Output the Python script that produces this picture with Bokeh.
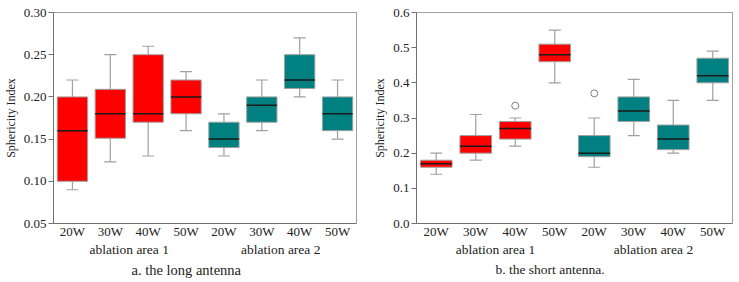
from bokeh.plotting import figure
from bokeh.models import FactorRange, NumeralTickFormatter, FixedTicker, Title, ColumnDataSource
from bokeh.layouts import row
from bokeh.embed import file_html
from bokeh.resources import INLINE

groups = ["ablation area 1"] * 4 + ["ablation area 2"] * 4
powers = ["20W", "30W", "40W", "50W"] * 2
colors = ["#ff0000"] * 4 + ["#008080"] * 4

# long antenna
a_low = [0.09, 0.123, 0.13, 0.16, 0.13, 0.16, 0.20, 0.15]
a_q1 = [0.10, 0.151, 0.17, 0.18, 0.14, 0.17, 0.21, 0.16]
a_med = [0.16, 0.18, 0.18, 0.20, 0.15, 0.19, 0.22, 0.18]
a_q3 = [0.20, 0.209, 0.25, 0.22, 0.17, 0.20, 0.25, 0.20]
a_high = [0.22, 0.25, 0.26, 0.23, 0.18, 0.22, 0.27, 0.22]
a_out_x = []
a_out_y = []

# short antenna
b_low = [0.14, 0.18, 0.22, 0.40, 0.16, 0.25, 0.20, 0.35]
b_q1 = [0.16, 0.20, 0.24, 0.46, 0.19, 0.29, 0.21, 0.40]
b_med = [0.17, 0.22, 0.27, 0.48, 0.20, 0.32, 0.24, 0.42]
b_q3 = [0.18, 0.25, 0.29, 0.51, 0.25, 0.36, 0.28, 0.47]
b_high = [0.20, 0.31, 0.30, 0.55, 0.30, 0.41, 0.35, 0.49]
b_out_x = [("ablation area 1", "40W"), ("ablation area 2", "20W")]
b_out_y = [0.335, 0.37]

a_ticks = [0.05, 0.10, 0.15, 0.20, 0.25, 0.30]
b_ticks = [0.0, 0.1, 0.2, 0.3, 0.4, 0.5, 0.6]

SERIF = "'Liberation Serif', 'Times New Roman', serif"
GRAY = "#a0a0a0"


def make(low, q1, med, q3, high, ox, oy, yr, ticks, fmt, caption, width, border_right,
         cap_size, cap_offset):
    factors = list(zip(groups, powers))
    xr = FactorRange(*factors, group_padding=0, factor_padding=0, range_padding=0)
    p = figure(width=width, height=282, x_range=xr, y_range=yr,
               output_backend="svg", toolbar_location=None,
               min_border_left=45, min_border_right=border_right,
               min_border_top=12, min_border_bottom=0)
    left = [(g, f, -0.4) for g, f in factors]
    right = [(g, f, 0.4) for g, f in factors]
    src = ColumnDataSource(dict(x=factors, xl=left, xr=right, low=low, q1=q1, med=med,
                                q3=q3, high=high, c=colors))
    p.segment(x0="x", y0="low", x1="x", y1="high", source=src, line_color=GRAY, line_width=1.2)
    p.scatter(x="x", y="low", source=src, marker="dash", size=12, line_color=GRAY, line_width=1.2)
    p.scatter(x="x", y="high", source=src, marker="dash", size=12, line_color=GRAY, line_width=1.2)
    p.vbar(x="x", bottom="q1", top="q3", width=0.8, source=src, fill_color="c",
           line_color=GRAY, line_width=1)
    p.segment(x0="xl", y0="med", x1="xr", y1="med", source=src,
              line_color="#1a1a1a", line_width=1.5)
    if ox:
        p.scatter(x=ox, y=oy, marker="circle", size=7, fill_color=None,
                  line_color="#808080", line_width=1)

    p.xgrid.visible = False
    p.ygrid.visible = False
    p.outline_line_color = GRAY
    p.outline_line_width = 1

    ya = p.yaxis[0]
    ya.ticker = FixedTicker(ticks=ticks)
    ya.formatter = NumeralTickFormatter(format=fmt)
    ya.minor_tick_line_color = None
    ya.minor_tick_out = 0
    ya.major_tick_in = 0
    ya.major_tick_out = 5
    ya.major_tick_line_color = "#707070"
    ya.axis_line_color = "#707070"
    ya.major_label_text_font = SERIF
    ya.major_label_text_font_size = "13px"
    ya.major_label_text_color = "#222222"
    ya.major_label_standoff = 2
    ya.axis_label = "Sphericity Index"
    ya.axis_label_text_font = SERIF
    ya.axis_label_text_font_size = "12px"
    ya.axis_label_text_font_style = "normal"
    ya.axis_label_text_color = "#222222"
    ya.axis_label_standoff = 3

    xa = p.xaxis[0]
    xa.major_tick_line_color = None
    xa.minor_tick_line_color = None
    xa.major_tick_in = 0
    xa.major_tick_out = 0
    xa.minor_tick_out = 0
    xa.axis_line_color = "#707070"
    xa.major_label_text_font = SERIF
    xa.major_label_text_font_size = "13px"
    xa.major_label_text_color = "#222222"
    xa.major_label_standoff = 0
    xa.group_text_font = SERIF
    xa.group_text_font_size = "13.5px"
    xa.group_text_font_style = "normal"
    xa.group_text_color = "#222222"
    xa.separator_line_color = None

    t = Title(text=caption, align="left", text_font=SERIF, text_font_size=cap_size,
              text_font_style="normal", text_color="#222222", standoff=0, offset=cap_offset)
    p.add_layout(t, "below")
    spacer = Title(text=" ", text_font_size="3px", standoff=0)
    p.add_layout(spacer, "below")
    return p


pa = make(a_low, a_q1, a_med, a_q3, a_high, a_out_x, a_out_y, (0.05, 0.30), a_ticks, "0.00",
          "a. the long antenna", 370, 14, "14.5px", 78)
pb = make(b_low, b_q1, b_med, b_q3, b_high, b_out_x, b_out_y, (0.0, 0.6), b_ticks, "0.0",
          "b. the short antenna.", 369, 7, "13.5px", 79)

layout = row(pa, pb)
open("out.html", "w").write(file_html(layout, INLINE))
